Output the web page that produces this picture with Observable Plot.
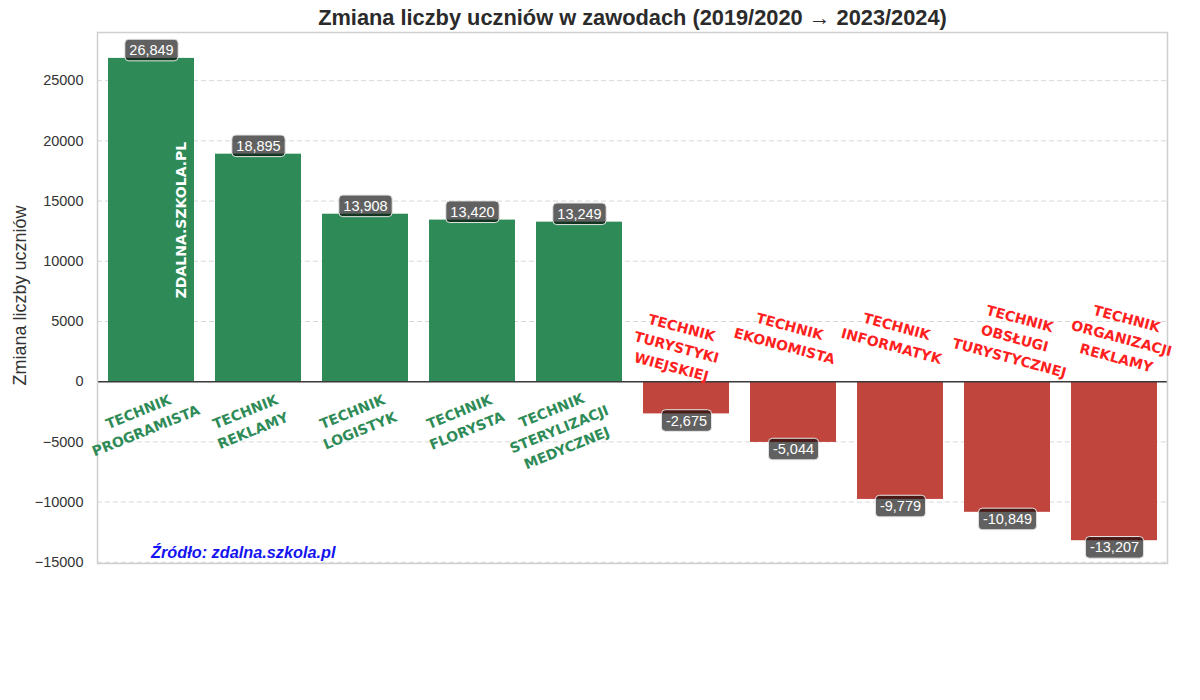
<!DOCTYPE html>
<html>
<head>
<meta charset="utf-8">
<script src="https://cdn.jsdelivr.net/npm/d3@7"></script>
<script src="https://cdn.jsdelivr.net/npm/@observablehq/plot@0.6"></script>
<style>
  html, body { margin: 0; padding: 0; background: #fff; }
  #chart { width: 1200px; height: 700px; }
</style>
</head>
<body>
<div id="chart"></div>
<script>
// ---- data ----
const occupations = [
  "TECHNIK PROGRAMISTA",
  "TECHNIK REKLAMY",
  "TECHNIK LOGISTYK",
  "TECHNIK FLORYSTA",
  "TECHNIK STERYLIZACJI MEDYCZNEJ",
  "TECHNIK TURYSTYKI WIEJSKIEJ",
  "TECHNIK EKONOMISTA",
  "TECHNIK INFORMATYK",
  "TECHNIK OBSŁUGI TURYSTYCZNEJ",
  "TECHNIK ORGANIZACJI REKLAMY"
];
const changes = [26849, 18895, 13908, 13420, 13249, -2675, -5044, -9779, -10849, -13207];
const yTicks = [-15000, -10000, -5000, 0, 5000, 10000, 15000, 20000, 25000];
const titleText = "Zmiana liczby uczniów w zawodach (2019/2020 → 2023/2024)";
const yLabelText = "Zmiana liczby uczniów";
const sourceText = "Źródło: zdalna.szkola.pl";
const watermarkText = "ZDALNA.SZKOLA.PL";

// ---- table built from the arrays ----
const data = occupations.map((name, i) => ({
  name,
  index: i,
  value: changes[i],
  label: name.split(" ").join("\n"),
  lines: name.split(" ").length
}));
const firstNeg = data.findIndex(d => d.value < 0);

const GREEN = "#2e8b57";
const RED = "#c0453d";
const GREEN_TXT = "#2e8b57";
const RED_TXT = "#ff1f1f";
const F = "Liberation Sans, Arial, Helvetica, sans-serif";
const LF = "DejaVu Sans, Verdana, sans-serif";

const catLabel = (filter, opts) => Plot.text(data, {
  filter, x: "name", y: 0, text: "label",
  fontFamily: LF, fontWeight: "bold", fontSize: 14, lineHeight: 1.45,
  textAnchor: "middle", lineAnchor: "middle", ...opts
});

const valueLabel = (filter, dy) => Plot.text(data, {
  filter, x: "name", y: "value",
  text: d => d.value.toLocaleString("en-US"),
  dy, fill: "white", fontFamily: F, fontSize: 14.5,
  ariaDescription: "value-label"
});

const chart = Plot.plot({
  width: 1200,
  height: 700,
  marginTop: 32,
  marginRight: 33,
  marginBottom: 137,
  marginLeft: 97,
  style: { fontFamily: F, fontSize: "14.5px", color: "#333", background: "#fff" },
  x: { type: "band", domain: occupations, paddingInner: 0.2, paddingOuter: 0.1, axis: null },
  y: { domain: [-15100, 29000], axis: null },
  marks: [
    Plot.gridY(yTicks, { stroke: "#d8d8d8", strokeOpacity: 1, strokeDasharray: "5,3", strokeWidth: 1 }),
    Plot.axisY(yTicks, { label: null, tickSize: 0, tickPadding: 14, tickFormat: d3.format("d"), fontSize: 14.5, fill: "#333" }),
    Plot.barY(data, { filter: d => d.value >= 0, x: "name", y: "value", fill: GREEN }),
    Plot.barY(data, { filter: d => d.value < 0, x: "name", y: "value", fill: RED }),
    Plot.ruleY([0], { stroke: "#3a3a3a", strokeWidth: 1.5 }),
    Plot.frame({ stroke: "#cfcfcf", strokeWidth: 1.5 }),
    // category labels
    catLabel(d => d.value >= 0 && d.lines === 2, { fill: GREEN_TXT, rotate: -22, dx: -10, dy: 38 }),
    catLabel(d => d.value >= 0 && d.lines === 3, { fill: GREEN_TXT, rotate: -22, dx: -21, dy: 46 }),
    catLabel(d => d.index === firstNeg, { fill: RED_TXT, rotate: 15, dx: -9.5, dy: -36 }),
    catLabel(d => d.value < 0 && d.index !== firstNeg && d.lines === 2, { fill: RED_TXT, rotate: 15, dx: -6, dy: -47 }),
    catLabel(d => d.value < 0 && d.index !== firstNeg && d.lines === 3, { fill: RED_TXT, rotate: 15, dx: 7.5, dy: -45 }),
    // value labels
    valueLabel(d => d.value >= 0, -8),
    valueLabel(d => d.value < 0, 7),
    // watermark inside the first bar
    Plot.text(data.slice(0, 1), {
      x: "name", y: d => d.value / 2, text: () => watermarkText,
      rotate: -90, dx: 30, fill: "white", fontFamily: LF, fontWeight: "bold", fontSize: 14
    }),
    // source note
    Plot.text([sourceText], {
      frameAnchor: "bottom-left", textAnchor: "start", lineAnchor: "middle", dx: 53.5, dy: -11,
      fontSize: 16.3, fontWeight: "bold", fontStyle: "italic", fill: "#1414f0", fontFamily: F
    }),
    // title
    Plot.text([titleText], {
      frameAnchor: "top", lineAnchor: "middle", dy: -14, fontSize: 21.8, fontWeight: "bold", fill: "#2b2b2b", fontFamily: F
    }),
    // y-axis label
    Plot.text([yLabelText], {
      frameAnchor: "left", textAnchor: "middle", lineAnchor: "middle", dx: -77, dy: -2.5, rotate: -90, fontSize: 18, fill: "#333", fontFamily: F
    })
  ]
});

document.getElementById("chart").append(chart);

// rounded boxes behind value labels
const NS = "http://www.w3.org/2000/svg";
chart.querySelectorAll('g[aria-description="value-label"] text').forEach(t => {
  const bb = t.getBBox();
  const r = document.createElementNS(NS, "rect");
  r.setAttribute("x", bb.x - 4.5);
  r.setAttribute("y", bb.y - 2.8);
  r.setAttribute("width", bb.width + 9);
  r.setAttribute("height", bb.height + 5.6);
  r.setAttribute("rx", 4);
  r.setAttribute("fill", "#000");
  r.setAttribute("fill-opacity", 0.62);
  r.setAttribute("stroke", "#e6e6e6");
  r.setAttribute("stroke-width", 1);
  const tr = t.getAttribute("transform");
  if (tr) r.setAttribute("transform", tr);
  t.parentNode.insertBefore(r, t);
});
</script>
</body>
</html>
